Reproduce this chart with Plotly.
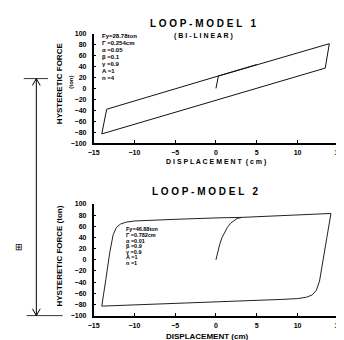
import plotly.graph_objects as go

# ---------------- data ----------------
# Model 1 (bi-linear) loop path
m1_x = [0.0, 0.3, 13.9, 13.4, -14.0, -13.4, 5.0]
m1_y = [0.0, 22.5, 81.5, 37.0, -83.0, -38.0, 43.5]

# Model 2 loop path (initial loading, then full cycle)
m2_x = [0.0, 0.2, 0.45, 0.75, 1.05, 1.4, 1.8, 2.2, 2.6, 3.2, 5.0, 7.0, 10.0, 12.0, 14.1,
        13.6, 13.1, 12.7, 12.3, 11.8, 11.1, 10.0, 8.0, 5.0, 0.0, -5.0, -10.0, -14.0,
        -13.5, -13.0, -12.6, -12.2, -11.7, -11.0, -10.0, -8.0, -5.0, 0.0, 3.2]
m2_y = [0.0, 15.0, 27.0, 40.0, 49.0, 58.0, 65.5, 70.5, 74.0, 76.0, 77.3, 78.4, 80.0, 81.3, 83.0,
        40.0, -5.0, -38.0, -55.0, -63.0, -67.0, -69.5, -71.0, -72.5, -75.0, -77.5, -80.0, -83.0,
        -35.0, 15.0, 45.0, 58.0, 64.0, 67.5, 69.5, 71.0, 72.5, 75.0, 76.0]

x_ticks = [-15, -10, -5, 0, 5, 10, 15]
y_ticks = [-100, -80, -60, -40, -20, 0, 20, 40, 60, 80, 100]

m1_params = ["Fy=28.78ton", "Γ =0.254cm", "α =0.05", "β =0.1", "γ =0.9", "A =1", "n =4"]
m2_params = ["Fy=46.88ton", "Γ =0.782cm", "α =0.01", "β =0.9", "γ =0.9", "A =1", "n =1"]

title1 = "L O O P - M O D E L   1"
subtitle1 = "( B I - L I N E A R )"
title2 = "L O O P - M O D E L   2"
xtitle1 = "D I S P L A C E M E N T  ( c m )"
xtitle2 = "DISPLACEMENT (cm)"
ytitle1 = "HYSTERETIC FORCE"
yunit1 = "(ton)"
ytitle2 = "HYSTERETIC FORCE (ton)"

W, H = 344, 340
def px(x): return x / W
def py(y): return 1 - y / H

FONT = "Liberation Sans"

fig = go.Figure()
fig.add_trace(go.Scatter(x=m1_x, y=m1_y, mode="lines", line=dict(color="#111", width=1),
                         xaxis="x", yaxis="y", showlegend=False))
fig.add_trace(go.Scatter(x=m2_x, y=m2_y, mode="lines", line=dict(color="#222", width=1),
                         xaxis="x2", yaxis="y2", showlegend=False))

axis_common = dict(showline=True, linecolor="black", linewidth=1.5, ticks="inside", ticklen=3,
                   tickcolor="black", showgrid=False, zeroline=False,
                   tickfont=dict(family=FONT, size=7, color="black", weight="bold"))

fig.update_layout(
    width=W, height=H, margin=dict(l=0, r=0, t=0, b=0),
    paper_bgcolor="white", plot_bgcolor="white",
    xaxis=dict(domain=[px(82), px(334)], range=[-15, 15], tickvals=x_ticks, anchor="y",
               ticklabelstandoff=2, **axis_common),
    yaxis=dict(domain=[py(134), py(22)], range=[-100, 100], tickvals=y_ticks, anchor="x",
               ticklabelstandoff=4, **axis_common),
    xaxis2=dict(domain=[px(82), px(334)], range=[-15, 15], tickvals=x_ticks, anchor="y2",
                ticklabelstandoff=2, **axis_common),
    yaxis2=dict(domain=[py(310), py(196)], range=[-100, 100], tickvals=y_ticks, anchor="x2",
                ticklabelstandoff=4, **axis_common),
)

ann = []
def txt(x, y, s, size, bold=True, angle=0, xanchor="center"):
    ann.append(dict(x=px(x), y=py(y), xref="paper", yref="paper", text=s, showarrow=False,
                    textangle=angle, xanchor=xanchor, yanchor="middle",
                    font=dict(family=FONT, size=size, color="black", weight="bold" if bold else "normal")))

txt(195, 12, title1, 10)
txt(195, 24, subtitle1, 7)
txt(197, 183, title2, 10)
txt(208, 153, xtitle1, 7)
txt(199, 331, xtitle2, 8)
txt(47, 73, ytitle1, 8, angle=-90)
txt(58, 72, yunit1, 6, angle=-90)
txt(47, 249, ytitle2, 8, angle=-90)
txt(5, 240, "⊞", 9, bold=False)

for i, s in enumerate(m1_params):
    txt(89, 25 + i * 7, s, 6, xanchor="left")
for i, s in enumerate(m2_params):
    txt(113, 222 + i * 5.7, s, 5.5, xanchor="left")

fig.update_layout(annotations=ann)

shapes = []
def seg(x0, y0, x1, y1, w=1):
    shapes.append(dict(type="line", xref="paper", yref="paper", x0=px(x0), y0=py(y0), x1=px(x1), y1=py(y1),
                       line=dict(color="black", width=w)))
# dimension arrow
seg(23, 68, 23, 310)
seg(10, 68, 35, 68, 0.8)
seg(13, 310, 50, 310, 0.8)
seg(23, 68, 19, 75)
seg(23, 68, 27, 75)
seg(23, 310, 19, 303)
seg(23, 310, 27, 303)
fig.update_layout(shapes=shapes)

fig.write_html("out.html")
